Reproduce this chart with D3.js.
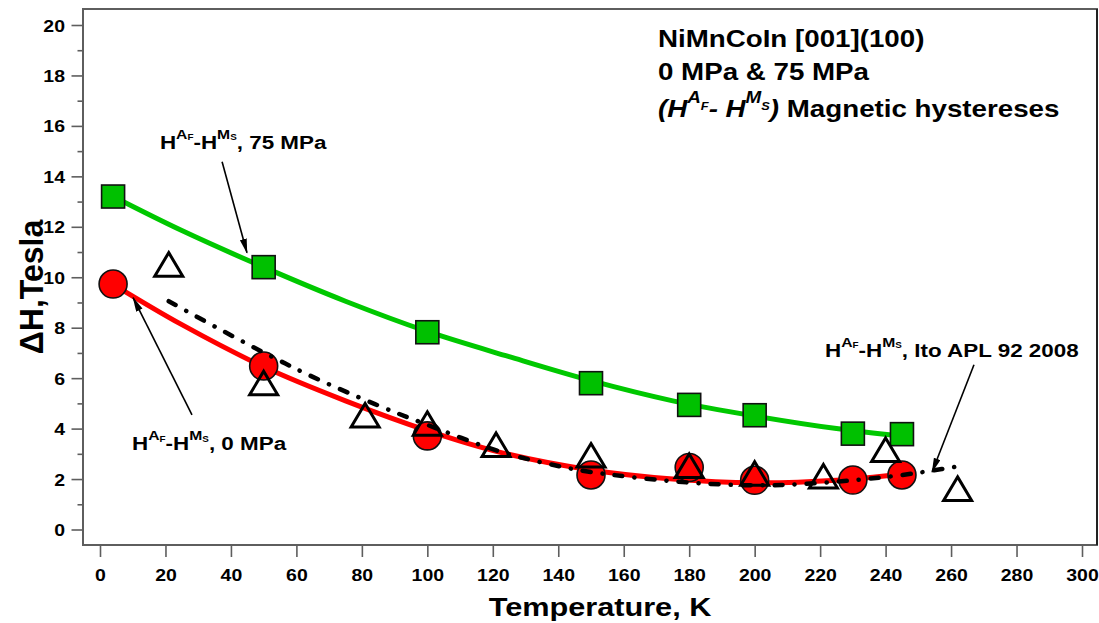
<!DOCTYPE html>
<html>
<head>
<meta charset="utf-8">
<script src="https://cdn.jsdelivr.net/npm/d3@7"></script>
<style>
  body { margin: 0; background: #fff; }
  svg { display: block; font-family: "Liberation Sans", Arial, Helvetica, sans-serif; font-weight: bold; }
</style>
</head>
<body>
<svg id="chart" width="1099" height="623"></svg>
<script>
// Measured hysteresis widths, 75 MPa (squares) and 0 MPa (circles)
const temps75 = [4, 50, 100, 150, 180, 200, 230, 245];
const dH75    = [13.2, 10.4, 7.82, 5.8, 4.94, 4.53, 3.8, 3.78];
const temps0  = [4, 50, 100, 150, 180, 200, 230, 245];
const dH0     = [9.73, 6.48, 3.71, 2.16, 2.46, 1.95, 1.96, 2.16];
// Ito et al., APL 92 (2008) (open triangles)
const tempsIto = [21, 50, 81, 100, 121, 150, 180, 200, 221, 240, 262];
const dHIto    = [10.5, 5.8, 4.52, 4.19, 3.35, 2.93, 2.52, 2.21, 2.1, 3.15, 1.61];

// Trend curves through each data set
const fitT75  = [4, 25, 50, 75, 100, 125, 150, 175, 200, 225, 245];
const fitH75  = [13.2, 11.85, 10.4, 9.05, 7.85, 6.85, 5.9, 5.1, 4.5, 4.0, 3.7];
const fitT0   = [4, 25, 50, 75, 100, 122, 150, 175, 200, 225, 245];
const fitH0   = [9.72, 8.12, 6.45, 5.1, 3.92, 3.07, 2.36, 2.0, 1.85, 1.95, 2.2];
const fitTIto = [21, 36, 51, 65, 84, 100, 122, 137, 150, 180, 200, 214, 230, 245, 254, 262];
const fitHIto = [9.05, 7.98, 6.95, 6.05, 4.97, 4.15, 3.1, 2.6, 2.28, 1.86, 1.75, 1.8, 1.95, 2.16, 2.33, 2.5];

// Axis ticks
const xTicks = [0, 20, 40, 60, 80, 100, 120, 140, 160, 180, 200, 220, 240, 260, 280, 300];
const yTicks = [0, 2, 4, 6, 8, 10, 12, 14, 16, 18, 20];
const yMinorTicks = [1, 3, 5, 7, 9, 11, 13, 15, 17, 19];

const frame = { left: 83, right: 1097, top: 9, bottom: 545 };
const SX = 1.18; // horizontal glyph stretch used for the labels

const svg = d3.select("#chart");

const x = d3.scaleLinear().domain([0, 300]).range([100, 1082]);
const y = d3.scaleLinear().domain([0, 20]).range([529.5, 25]);

const axisColor = "#5e5e5e";

// re-anchor a text node at (px,py) and widen its glyphs
function stretch(sel, px, py, sx) {
  sel.attr("x", 0).attr("y", 0)
     .attr("transform", `translate(${px},${py}) scale(${sx || SX},1)`);
}

// ---- axes ----
const gx = svg.append("g").attr("transform", `translate(0,${frame.bottom})`)
  .call(d3.axisBottom(x).tickValues(xTicks).tickSize(12).tickFormat(d3.format("d")));
gx.select(".domain").remove();
gx.selectAll(".tick line").attr("stroke", axisColor).attr("stroke-width", 1.6);
gx.selectAll(".tick text").each(function () {
  const t = d3.select(this);
  t.attr("dy", null).attr("font-size", 16.5).attr("font-weight", "bold")
   .attr("font-family", "Liberation Sans, Arial, sans-serif").attr("fill", "#000");
  stretch(t, 0, 36);
});

const gy = svg.append("g").attr("transform", `translate(${frame.left},0)`)
  .call(d3.axisLeft(y).tickValues(yTicks).tickSize(11.5).tickFormat(d3.format("d")));
gy.select(".domain").remove();
gy.selectAll(".tick line").attr("stroke", axisColor).attr("stroke-width", 1.6);
gy.selectAll(".tick text").each(function () {
  const t = d3.select(this);
  t.attr("dy", null).attr("font-size", 16.5).attr("font-weight", "bold")
   .attr("font-family", "Liberation Sans, Arial, sans-serif").attr("fill", "#000");
  stretch(t, -18, 6);
});

const gyMinor = svg.append("g").attr("transform", `translate(${frame.left},0)`)
  .call(d3.axisLeft(y).tickValues(yMinorTicks).tickSize(5.5).tickFormat(""));
gyMinor.select(".domain").remove();
gyMinor.selectAll(".tick line").attr("stroke", axisColor).attr("stroke-width", 1.6);

// frame
svg.append("rect")
  .attr("x", frame.left).attr("y", frame.top)
  .attr("width", frame.right - frame.left).attr("height", frame.bottom - frame.top)
  .attr("fill", "none").attr("stroke", axisColor).attr("stroke-width", 2);
svg.append("line")
  .attr("x1", frame.right).attr("x2", frame.right).attr("y1", frame.top).attr("y2", frame.bottom)
  .attr("stroke", "#222").attr("stroke-width", 2);

// axis titles
stretch(svg.append("text").attr("text-anchor", "middle").attr("font-size", 26)
  .text("Temperature, K"), 600, 616);
svg.append("text").attr("text-anchor", "middle").attr("font-size", 32)
  .attr("dy", "0.36em")
  .attr("transform", "translate(31,287) scale(1.05,1) rotate(-90)")
  .text("ΔH,Tesla");

// ---- curves ----
const line = d3.line().x(d => x(d[0])).y(d => y(d[1])).curve(d3.curveCatmullRom.alpha(0.5));
const plot = svg.append("g");

plot.append("path").datum(d3.zip(fitT0, fitH0)).attr("d", line)
  .attr("fill", "none").attr("stroke", "#ff0000").attr("stroke-width", 5).attr("stroke-linecap", "round");
plot.append("path").datum(d3.zip(fitT75, fitH75)).attr("d", line)
  .attr("fill", "none").attr("stroke", "#00c800").attr("stroke-width", 5).attr("stroke-linecap", "round");

// squares (75 MPa)
plot.selectAll("rect.sq").data(d3.zip(temps75, dH75)).join("rect").attr("class", "sq")
  .attr("x", d => x(d[0]) - 11.5).attr("y", d => y(d[1]) - 11.5)
  .attr("width", 23).attr("height", 23)
  .attr("fill", "#00c000").attr("stroke", "#111").attr("stroke-width", 1.6);

// circles (0 MPa)
plot.selectAll("circle.ci").data(d3.zip(temps0, dH0)).join("circle").attr("class", "ci")
  .attr("cx", d => x(d[0])).attr("cy", d => y(d[1])).attr("r", 14)
  .attr("fill", "#ff0000").attr("stroke", "#111").attr("stroke-width", 1.6);

// Ito trend, dash-dot
plot.append("path").datum(d3.zip(fitTIto, fitHIto)).attr("d", line)
  .attr("fill", "none").attr("stroke", "#000").attr("stroke-width", 4.5)
  .attr("stroke-linecap", "round").attr("stroke-dasharray", "8 12 0.1 12");

// open triangles (Ito)
plot.selectAll("path.tri").data(d3.zip(tempsIto, dHIto)).join("path").attr("class", "tri")
  .attr("transform", d => `translate(${x(d[0])},${y(d[1])})`)
  .attr("d", "M0,-12L14,11.5L-14,11.5Z")
  .attr("fill", "none").attr("stroke", "#000").attr("stroke-width", 3).attr("stroke-linejoin", "miter");

// ---- labels with H^{A_F}-H^{M_S} notation ----
// parts: [text, level, italic]; level 0 base, 1 superscript, 2 subscript of the superscript
function richText(px, py, size, parts, scale, rise) {
  const t = svg.append("text").attr("font-size", size);
  stretch(t, px, py);
  let prev = 0;
  parts.forEach(([s, lvl, it]) => {
    const shift = rise[lvl] * size;
    t.append("tspan")
      .attr("dy", (prev - shift).toFixed(2))
      .attr("font-size", (scale[lvl] * size).toFixed(2))
      .attr("font-style", it ? "italic" : "normal")
      .text(s);
    prev = shift;
  });
  return t;
}
const notation = (tail) => [["H", 0], ["A", 1], ["F", 2], ["-H", 0], ["M", 1], ["S", 2], [tail, 0]];

// title block
stretch(svg.append("text").attr("font-size", 23.5).text("NiMnCoIn [001](100)"), 658, 46.7);
stretch(svg.append("text").attr("font-size", 23.5).text("0 MPa & 75 MPa"), 658, 80);
richText(658, 116.7, 23.5, [
  ["(H", 0, true], ["A", 1, true], ["F", 2, true], ["- H", 0, true],
  ["M", 1, true], ["S", 2, true], [")", 0, true], [" Magnetic hystereses", 0, false]
], [1, 0.68, 0.46], [0, 0.6, 0.3]);

// annotation labels, anchored in data space
const annScale = [1, 0.7, 0.44], annRise = [0, 0.53, 0.44];
richText(x(18.3), y(15.1), 19, notation(", 75 MPa"), annScale, annRise);
richText(x(9.8), y(3.15), 19, notation(", 0 MPa"), annScale, annRise);
richText(x(221.5), y(6.85), 19, notation(", Ito APL 92 2008"), annScale, annRise);

// arrows
svg.append("defs").append("marker")
  .attr("id", "head").attr("markerUnits", "userSpaceOnUse")
  .attr("markerWidth", 15).attr("markerHeight", 8).attr("refX", 14).attr("refY", 3.5)
  .attr("orient", "auto")
  .append("path").attr("d", "M0,0L15,3.5L0,7Z").attr("fill", "#000");

const arrows = [
  [[37.3, 14.58], [44.9, 10.97]],
  [[28.1, 4.54], [10.1, 9.19]],
  [[267, 6.53], [254.2, 2.28]]
];
arrows.forEach(([a, b]) => {
  svg.append("line")
    .attr("x1", x(a[0])).attr("y1", y(a[1])).attr("x2", x(b[0])).attr("y2", y(b[1]))
    .attr("stroke", "#000").attr("stroke-width", 1.6).attr("marker-end", "url(#head)");
});
</script>
</body>
</html>
